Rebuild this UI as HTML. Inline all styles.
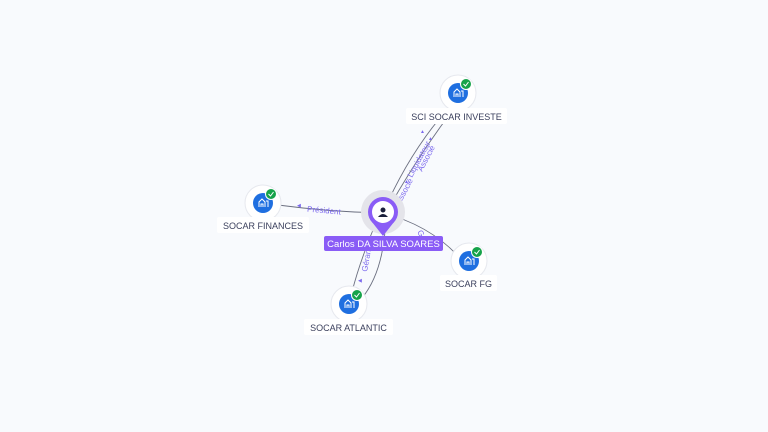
<!DOCTYPE html>
<html><head><meta charset="utf-8"><style>
html,body{margin:0;padding:0;background:#f8fafd;}
svg{display:block;font-family:"Liberation Sans",sans-serif;}
</style></head><body>
<svg width="768" height="432" viewBox="0 0 768 432">
<rect width="768" height="432" fill="#f8fafd"/>
<g fill="none" stroke="#6b6f80" stroke-width="0.9">
<path d="M383,213 Q330,212 278,205"/>
<path d="M383,213 Q410,150 452,104"/>
<path d="M386,213 Q418,155 456,106"/>
<path d="M383,213 Q430,225 460,258"/>
<path d="M380,213 Q360,260 352,292"/>
<path d="M386,213 Q385,270 362,298"/>
</g>
<g font-size="8" fill="#7b68ee">
<text x="307" y="213" transform="rotate(5 323 211)">Président</text>
<text x="412" y="178" transform="rotate(-62 412 178)">Liquidateur</text>
<text x="422" y="172" transform="rotate(-62 422 172)">Associé</text>
<text x="400" y="205" transform="rotate(-62 400 205)">Associé</text>
<text x="367" y="272" transform="rotate(-80 367 272)">Gérant</text>
<text x="417" y="232" transform="rotate(60 417 232)">Gé</text>
</g>
<g fill="#7b68ee" font-size="5">
<text x="297" y="207">◀</text><text x="420" y="133">▲</text><text x="428" y="140">▲</text><text x="404" y="183">▲</text><text x="358" y="282">◀</text>
</g>
<!-- center -->
<circle cx="383" cy="212" r="22" fill="#e4e4ea"/>
<path d="M372,222 L383,236 L394,222 Z" fill="#8a5cf6"/>
<circle cx="383" cy="212" r="15" fill="#8a5cf6"/>
<circle cx="383" cy="212" r="11" fill="#fff"/>
<circle cx="383" cy="210" r="2.5" fill="#1a1f3a"/>
<path d="M378,217 Q383,211 388,217 Z" fill="#1a1f3a"/>
<rect x="324" y="236" width="119" height="15" rx="2" fill="#8a5cf6"/>
<text x="383.5" y="247" font-size="9.5" fill="#fff" text-anchor="middle">Carlos DA SILVA SOARES</text>
<!-- nodes -->
<g id="n">
</g>
<g font-size="9" fill="#3a3f5c" text-anchor="middle">
<g transform="translate(458,93)"><circle r="18" fill="#fff" stroke="#e6e8ee"/><circle r="10" fill="#1f6fe0"/><path d="M-4,4 V-1 L-1,-4 L2,-1 V4 M-2,4 V1 H0 V4 M3,-2 H5 V4" stroke="#fff" stroke-width="1" fill="none"/><circle cx="8" cy="-9" r="5.5" fill="#16a34a" stroke="#fff"/><path d="M5.5,-9 L7.5,-7 L10.5,-11" stroke="#fff" fill="none" stroke-width="1"/></g>
<rect x="406" y="108" width="101" height="16" rx="2" fill="#fff"/><text x="456.5" y="120">SCI SOCAR INVESTE</text>
<g transform="translate(263,203)"><circle r="18" fill="#fff" stroke="#e6e8ee"/><circle r="10" fill="#1f6fe0"/><path d="M-4,4 V-1 L-1,-4 L2,-1 V4 M-2,4 V1 H0 V4 M3,-2 H5 V4" stroke="#fff" stroke-width="1" fill="none"/><circle cx="8" cy="-9" r="5.5" fill="#16a34a" stroke="#fff"/><path d="M5.5,-9 L7.5,-7 L10.5,-11" stroke="#fff" fill="none" stroke-width="1"/></g>
<rect x="217" y="217" width="92" height="16" rx="2" fill="#fff"/><text x="263" y="229">SOCAR FINANCES</text>
<g transform="translate(469,261)"><circle r="18" fill="#fff" stroke="#e6e8ee"/><circle r="10" fill="#1f6fe0"/><path d="M-4,4 V-1 L-1,-4 L2,-1 V4 M-2,4 V1 H0 V4 M3,-2 H5 V4" stroke="#fff" stroke-width="1" fill="none"/><circle cx="8" cy="-9" r="5.5" fill="#16a34a" stroke="#fff"/><path d="M5.5,-9 L7.5,-7 L10.5,-11" stroke="#fff" fill="none" stroke-width="1"/></g>
<rect x="440" y="275" width="57" height="16" rx="2" fill="#fff"/><text x="468.5" y="287">SOCAR FG</text>
<g transform="translate(349,304)"><circle r="18" fill="#fff" stroke="#e6e8ee"/><circle r="10" fill="#1f6fe0"/><path d="M-4,4 V-1 L-1,-4 L2,-1 V4 M-2,4 V1 H0 V4 M3,-2 H5 V4" stroke="#fff" stroke-width="1" fill="none"/><circle cx="8" cy="-9" r="5.5" fill="#16a34a" stroke="#fff"/><path d="M5.5,-9 L7.5,-7 L10.5,-11" stroke="#fff" fill="none" stroke-width="1"/></g>
<rect x="304" y="319" width="89" height="16" rx="2" fill="#fff"/><text x="348.5" y="331">SOCAR ATLANTIC</text>
</g>
</svg>
</body></html>
